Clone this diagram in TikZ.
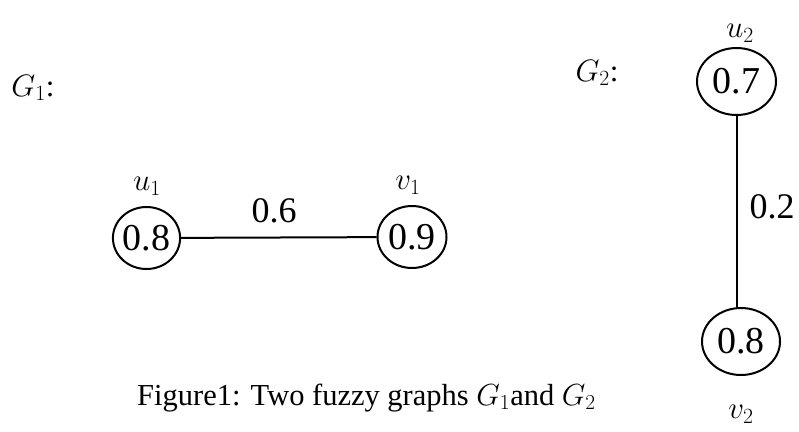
\documentclass[tikz,border=0pt]{standalone}
\usepackage{fix-cm}
\usepackage{fontspec}
\setmainfont{Liberation Serif}
\usetikzlibrary{shapes.geometric}
\begin{document}
\begin{tikzpicture}[x=1pt,y=-1pt,
  vtx/.style={draw,ellipse,line width=2pt,inner sep=0pt,font=\fontsize{38}{42}\selectfont},
  num/.style={inner sep=0pt,font=\fontsize{36}{40}\selectfont},
  lbl/.style={inner sep=0pt,font=\fontsize{31}{35}\selectfont},
  edge/.style={line width=2pt}]
\useasboundingbox (0,0) rectangle (799,431);
\node[lbl] (g1) at (33,88) {$G_1$:};
\node[lbl] (g2) at (597,73) {$G_2$:};
\node[vtx,minimum width=67pt,minimum height=62pt] (u1) at (146.5,238) {0.8};
\node[vtx,minimum width=69pt,minimum height=62pt] (v1) at (412,237) {0.9};
\node[lbl] (lu1) at (147,186) {$u_1$};
\node[lbl] (lv1) at (408,185) {$v_1$};
\draw[edge] (u1) -- (v1);
\node[num] (e1) at (274,211) {0.6};
\node[vtx,minimum width=79pt,minimum height=67pt] (u2) at (736.5,81.5) {0.7};
\node[vtx,minimum width=78pt,minimum height=67pt] (v2) at (741,341.5) {0.8};
\node[lbl] (lu2) at (740,33) {$u_2$};
\node[lbl] (lv2) at (741,414) {$v_2$};
\draw[edge] (u2.south) -- (u2.south |- v2.north) coordinate (v2t);
\node[num] (e2) at (772,207) {0.2};
\node[inner sep=0pt,anchor=base west,font=\fontsize{30.5}{34}\selectfont] (cap) at (137,405) {Figure1: Two fuzzy graphs $G_1$and $G_2$};
\end{tikzpicture}
\end{document}
